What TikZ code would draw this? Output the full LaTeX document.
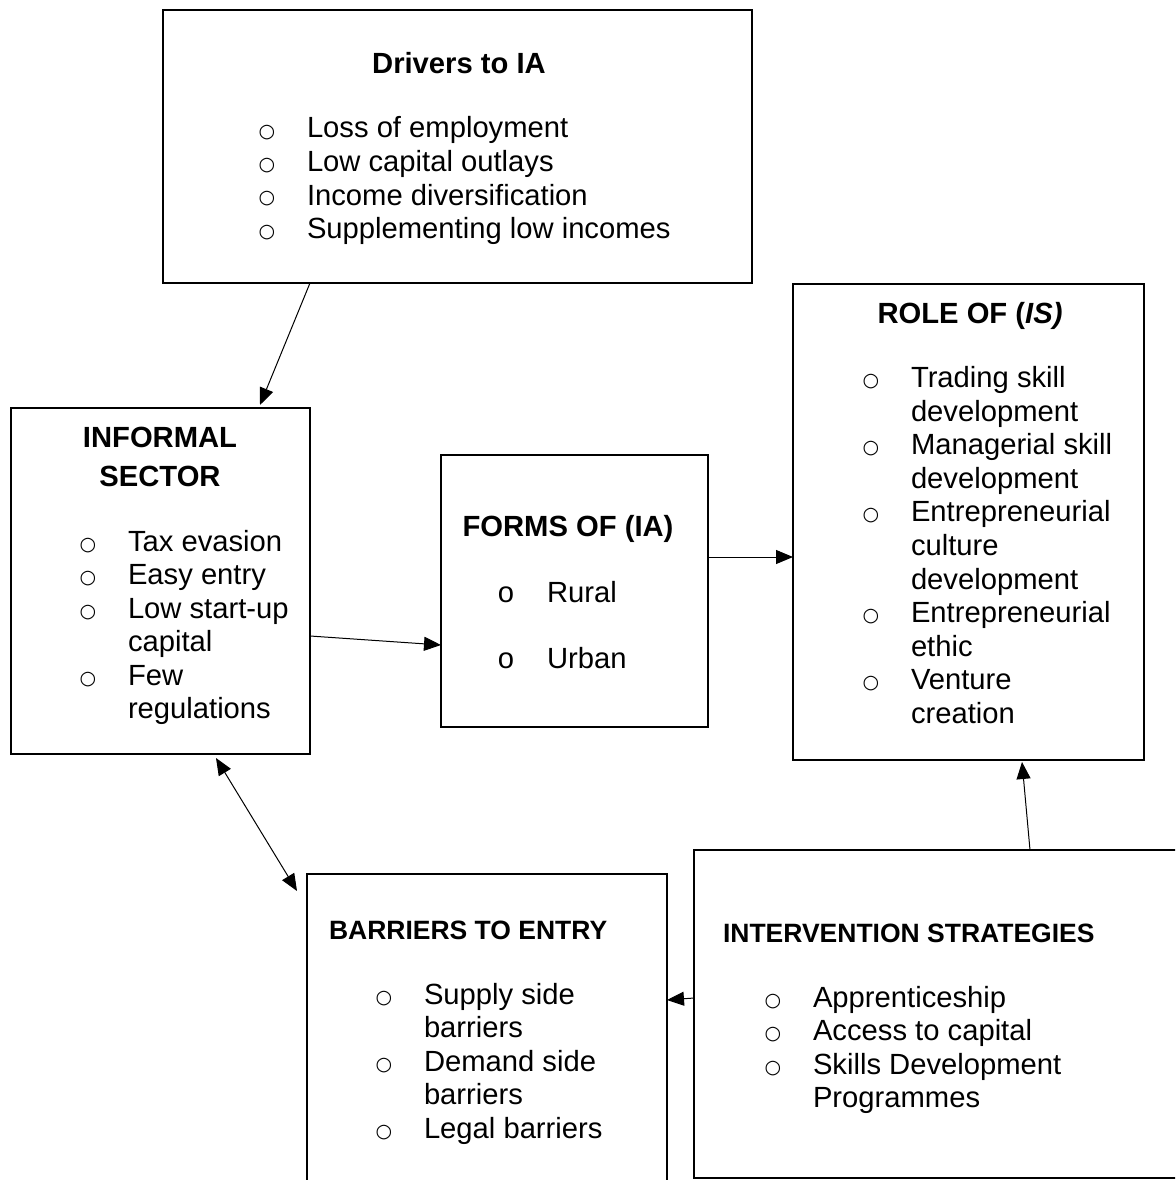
\documentclass[tikz,border=0pt]{standalone}
\usepackage{fontspec}
\setmainfont{Liberation Sans}
\newfontfamily\dvs{DejaVu Sans}
\usetikzlibrary{arrows.meta,calc}
\newcommand\bu{\llap{\hbox to 80pt{\hss\raisebox{1pt}{\dvs\fontsize{19}{19}\selectfont ○}\hss}}}
\newcommand\fo{\llap{\hbox to 82pt{\hss o\hss}}}
\begin{document}
\begin{tikzpicture}[x=1pt,y=-1pt,
  box/.style={draw, line width=2pt, rectangle, inner sep=0pt, outer sep=0pt},
  conn/.style={line width=1pt, -{Triangle[length=17pt,width=14pt]}},
  dconn/.style={line width=1pt, {Triangle[length=17pt,width=14pt]}-{Triangle[length=17pt,width=14pt]}},
  body/.style={inner sep=0pt, outer sep=0pt, font=\fontsize{29.2}{33.5}\selectfont},
  head/.style={inner sep=0pt, outer sep=0pt, font=\fontsize{29.2}{39.3}\selectfont\bfseries},
  heads/.style={inner sep=0pt, outer sep=0pt, font=\fontsize{26.5}{32}\selectfont\bfseries}]
\useasboundingbox (0,0) rectangle (1175,1180);
\clip (0,0) rectangle (1175,1180);

% boxes
\node[box, minimum width=589pt, minimum height=273pt] (drivers) at (457.5,146.5) {};
\node[box, minimum width=299pt, minimum height=346pt] (informal) at (160.5,581) {};
\node[box, minimum width=267pt, minimum height=272pt] (forms) at (574.5,591) {};
\node[box, minimum width=351pt, minimum height=476pt] (role) at (968.5,522) {};
\node[box, minimum width=360pt, minimum height=346pt] (barriers) at (487,1047) {};
\node[box, minimum width=526pt, minimum height=328pt] (intervention) at (957,1014) {};

% Drivers
\node[head, anchor=base] (driversT) at (459,74) {Drivers to IA};
\node[body, anchor=base west] (driversL) at (307,138) {\vtop{%
  \hbox{\bu Loss of employment}%
  \hbox{\bu Low capital outlays}%
  \hbox{\bu Income diversification}%
  \hbox{\bu Supplementing low incomes}}};

% Informal sector
\node[head, anchor=base] (informalT) at (160,447) {\begin{tabular}[t]{@{}c@{}}INFORMAL\\SECTOR\end{tabular}};
\node[body, anchor=base west] (informalL) at (128,551) {\vtop{%
  \hbox{\bu Tax evasion}%
  \hbox{\bu Easy entry}%
  \hbox{\bu Low start-up}%
  \hbox{capital}%
  \hbox{\bu Few}%
  \hbox{regulations}}};

% Forms
\node[head, anchor=base] (formsT) at (568,536) {FORMS OF (IA)};
\node[body, anchor=base west] (formsL) at (547,602) {\vtop{\baselineskip=66pt
  \hbox{\fo Rural}%
  \hbox{\fo Urban}}};

% Role
\node[head, anchor=base] (roleT) at (970,323) {ROLE OF (\textit{IS)}};
\node[body, anchor=base west] (roleL) at (911,387.5) {\vtop{\baselineskip=33.6pt
  \hbox{\bu Trading skill}%
  \hbox{development}%
  \hbox{\bu Managerial skill}%
  \hbox{development}%
  \hbox{\bu Entrepreneurial}%
  \hbox{culture}%
  \hbox{development}%
  \hbox{\bu Entrepreneurial}%
  \hbox{ethic}%
  \hbox{\bu Venture}%
  \hbox{creation}}};

% Barriers
\node[heads, anchor=base west] (barriersT) at (329,939) {BARRIERS TO ENTRY};
\node[body, anchor=base west] (barriersL) at (424,1004) {\vtop{%
  \hbox{\bu Supply side}%
  \hbox{barriers}%
  \hbox{\bu Demand side}%
  \hbox{barriers}%
  \hbox{\bu Legal barriers}}};

% Intervention
\node[heads, anchor=base west] (interventionT) at (723,942) {INTERVENTION STRATEGIES};
\node[body, anchor=base west] (interventionL) at (813,1007) {\vtop{%
  \hbox{\bu Apprenticeship}%
  \hbox{\bu Access to capital}%
  \hbox{\bu Skills Development}%
  \hbox{Programmes}}};

% connectors
\draw[conn] ($(drivers.south west)+(147,0)$) -- ($(informal.north west)+(249,-3)$);
\draw[conn] ($(informal.east)+(0,55)$) -- ($(forms.west)+(0,54)$);
\draw[conn] ($(forms.east)+(0,-34)$) -- ($(role.west)+(0,35)$);
\draw[dconn] ($(informal.south west)+(205,4)$) -- ($(barriers.north west)+(-10,17)$);
\draw[conn] ($(intervention.north west)+(336,0)$) -- ($(role.south west)+(229,2)$);
\draw[conn] ($(intervention.west)+(0,-16)$) -- ($(barriers.east)+(0,-47)$);
\end{tikzpicture}
\end{document}
